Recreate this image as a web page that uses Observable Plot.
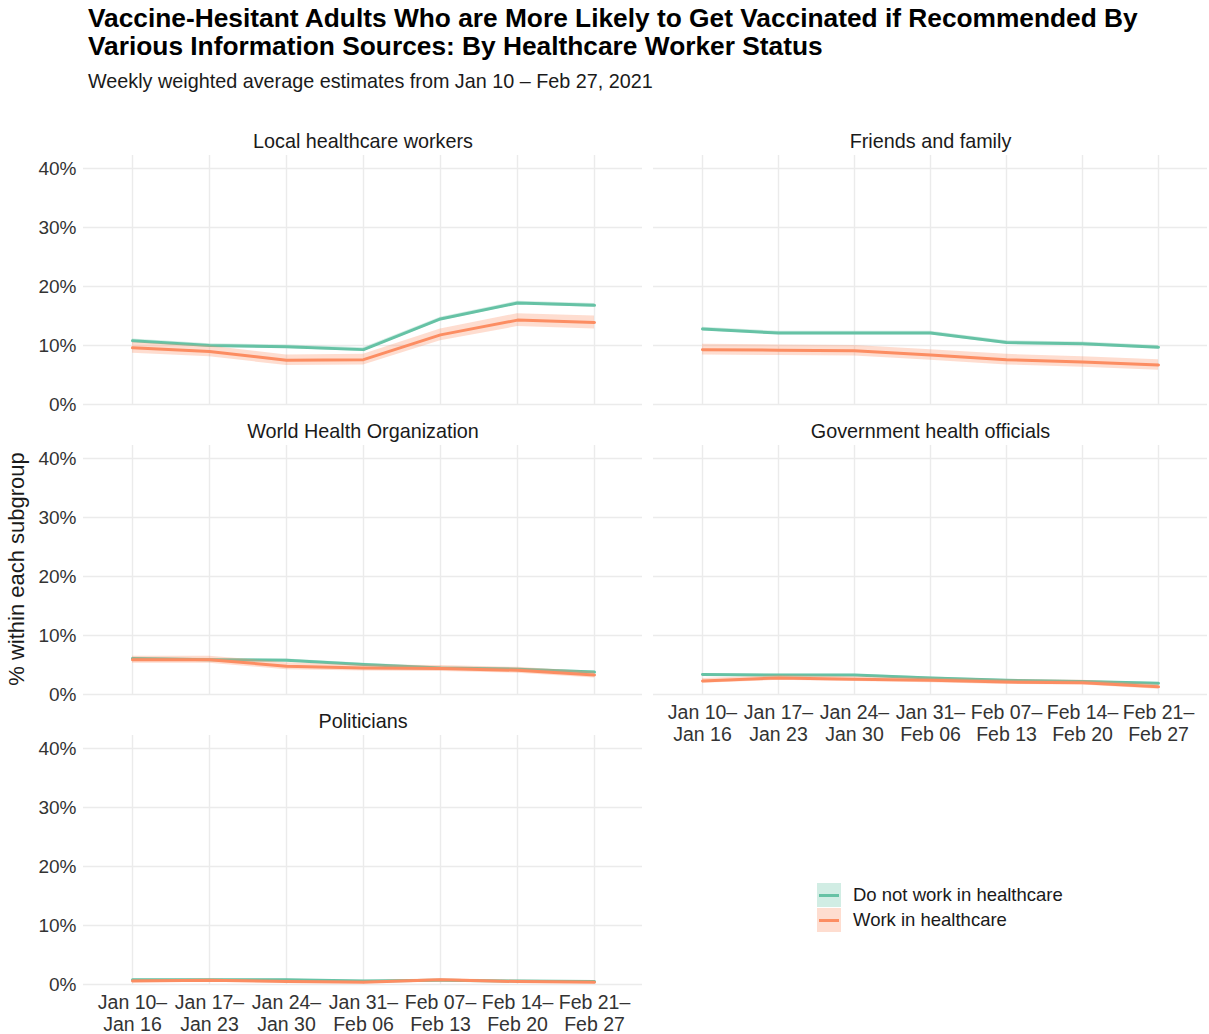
<!DOCTYPE html>
<html>
<head>
<meta charset="utf-8">
<script src="https://cdn.jsdelivr.net/npm/d3@7"></script>
<script src="https://cdn.jsdelivr.net/npm/@observablehq/plot@0.6"></script>
<style>
  body { margin:0; background:#fff; font-family:"Liberation Sans", Arial, Helvetica, sans-serif; width:1209px; height:1034px; overflow:hidden; position:relative; }
  #title { position:absolute; left:88px; top:4px; font-size:26.3px; font-weight:bold; line-height:28px; color:#000; white-space:nowrap; }
  #subtitle { position:absolute; left:88px; top:70px; font-size:19.8px; color:#1a1a1a; white-space:nowrap; }
  #ylab { position:absolute; left:17px; top:569px; transform:translate(-50%,-50%) rotate(-90deg); font-size:22px; color:#1a1a1a; white-space:nowrap; }
  .panel { position:absolute; }
  #legend { position:absolute; left:817px; top:882px; font-size:18.5px; color:#1a1a1a; }
  .item { display:flex; align-items:center; height:25px; }
  .key { width:24px; height:24px; position:relative; margin-right:12px; }
  .key .bg { position:absolute; inset:0; opacity:0.3; }
  .key .ln { position:absolute; left:2px; right:2px; top:11px; height:3px; }
</style>
</head>
<body>
<div id="title">Vaccine-Hesitant Adults Who are More Likely to Get Vaccinated if Recommended By<br>Various Information Sources: By Healthcare Worker Status</div>
<div id="subtitle">Weekly weighted average estimates from Jan 10 – Feb 27, 2021</div>
<div id="ylab">% within each subgroup</div>
<div id="legend"></div>
<script>
const weeks = ["Jan 10–\nJan 16","Jan 17–\nJan 23","Jan 24–\nJan 30","Jan 31–\nFeb 06","Feb 07–\nFeb 13","Feb 14–\nFeb 20","Feb 21–\nFeb 27"];
const groups = ["Do not work in healthcare","Work in healthcare"];
const groupColors = ["#66c2a5","#fc8d62"];
const panelTitles = ["Local healthcare workers","Friends and family","World Health Organization","Government health officials","Politicians"];
const yTicks = [0, 0.1, 0.2, 0.3, 0.4];

// values in percent
const localNot   = [10.8, 10.0, 9.8, 9.3, 14.5, 17.2, 16.8];
const localWork  = [9.6, 9.0, 7.5, 7.6, 11.8, 14.3, 13.9];
const friendsNot = [12.8, 12.1, 12.1, 12.1, 10.5, 10.3, 9.7];
const friendsWork= [9.3, 9.2, 9.1, 8.4, 7.6, 7.2, 6.7];
const whoNot     = [6.1, 5.9, 5.8, 5.1, 4.5, 4.3, 3.8];
const whoWork    = [5.9, 5.9, 4.8, 4.5, 4.4, 4.1, 3.3];
const govNot     = [3.4, 3.3, 3.3, 2.8, 2.4, 2.2, 1.9];
const govWork    = [2.3, 2.8, 2.6, 2.4, 2.1, 2.0, 1.3];
const polNot     = [0.8, 0.8, 0.8, 0.6, 0.7, 0.6, 0.5];
const polWork    = [0.6, 0.7, 0.5, 0.4, 0.8, 0.5, 0.4];

// 95% CI half-widths in percent
const localNotMoe   = [0.3, 0.3, 0.3, 0.3, 0.3, 0.3, 0.3];
const localWorkMoe  = [0.9, 0.9, 0.9, 0.9, 1.0, 1.1, 1.1];
const friendsNotMoe = [0.3, 0.3, 0.3, 0.3, 0.3, 0.3, 0.3];
const friendsWorkMoe= [0.9, 0.9, 0.9, 0.9, 0.9, 0.9, 0.9];
const whoNotMoe     = [0.2, 0.2, 0.2, 0.2, 0.2, 0.2, 0.2];
const whoWorkMoe    = [0.6, 0.6, 0.6, 0.5, 0.5, 0.5, 0.5];
const govNotMoe     = [0.15, 0.15, 0.15, 0.15, 0.15, 0.15, 0.15];
const govWorkMoe    = [0.4, 0.4, 0.4, 0.4, 0.4, 0.4, 0.4];
const polNotMoe     = [0.1, 0.1, 0.1, 0.1, 0.1, 0.1, 0.1];
const polWorkMoe    = [0.2, 0.2, 0.2, 0.2, 0.2, 0.2, 0.2];

function rows(vals, moe, g) {
  return vals.map((v, i) => ({week: weeks[i], group: groups[g], value: v / 100, lo: (v - moe[i]) / 100, hi: (v + moe[i]) / 100}));
}

function panel({title, nv, nm, wv, wm, left, top, width, marginRight, marginBottom, showY}) {
  const nd = rows(nv, nm, 0), wd = rows(wv, wm, 1);
  const showX = marginBottom > 20;
  const chart = Plot.plot({
    width, height: 30 + 249 + marginBottom,
    marginLeft: 63, marginRight, marginTop: 30, marginBottom,
    style: {fontFamily: '"Liberation Sans", Arial, sans-serif', fontSize: "19px", color: "#333", background: "transparent", overflow: "visible"},
    x: {type: "point", domain: weeks, padding: 0.62, axis: null, label: null},
    y: {domain: [0, 0.422], axis: null, label: null},
    marks: [
      Plot.gridY(yTicks, {stroke: "#ebebeb", strokeOpacity: 1, strokeWidth: 1.4}),
      Plot.gridX(weeks, {stroke: "#ebebeb", strokeOpacity: 1, strokeWidth: 1.4}),
      showY ? Plot.axisY(yTicks, {tickSize: 0, tickPadding: 7, tickFormat: d => Math.round(d * 100) + "%", fontSize: 19, fill: "#333", label: null}) : null,
      showX ? Plot.axisX(weeks, {tickSize: 0, tickPadding: 9, fontSize: 19.5, lineHeight: 1.12, fill: "#333", label: null}) : null,
      Plot.areaY(nd, {x: "week", y1: "lo", y2: "hi", fill: groupColors[0], fillOpacity: 0.3}),
      Plot.lineY(nd, {x: "week", y: "value", stroke: groupColors[0], strokeWidth: 3}),
      Plot.areaY(wd, {x: "week", y1: "lo", y2: "hi", fill: groupColors[1], fillOpacity: 0.3}),
      Plot.lineY(wd, {x: "week", y: "value", stroke: groupColors[1], strokeWidth: 3}),
      Plot.text([title], {frameAnchor: "top", dy: -22, fontSize: 19.8, fill: "#1a1a1a"})
    ]
  });
  const div = document.createElement("div");
  div.className = "panel";
  div.style.left = left + "px";
  div.style.top = top + "px";
  div.appendChild(chart);
  document.body.appendChild(div);
}

const L = {left: 20, width: 622, marginRight: 0, showY: true};
const R = {left: 590, width: 619, marginRight: 2, showY: false};
panel({title: panelTitles[0], nv: localNot, nm: localNotMoe, wv: localWork, wm: localWorkMoe, ...L, top: 125, marginBottom: 6});
panel({title: panelTitles[1], nv: friendsNot, nm: friendsNotMoe, wv: friendsWork, wm: friendsWorkMoe, ...R, top: 125, marginBottom: 6});
panel({title: panelTitles[2], nv: whoNot, nm: whoNotMoe, wv: whoWork, wm: whoWorkMoe, ...L, top: 415, marginBottom: 6});
panel({title: panelTitles[3], nv: govNot, nm: govNotMoe, wv: govWork, wm: govWorkMoe, ...R, top: 415, marginBottom: 55});
panel({title: panelTitles[4], nv: polNot, nm: polNotMoe, wv: polWork, wm: polWorkMoe, ...L, top: 705, marginBottom: 50});

const legend = document.getElementById("legend");
groups.forEach((g, i) => {
  const item = document.createElement("div");
  item.className = "item";
  item.innerHTML = `<div class="key"><div class="bg" style="background:${groupColors[i]}"></div><div class="ln" style="background:${groupColors[i]}"></div></div><span>${g}</span>`;
  legend.appendChild(item);
});
</script>
</body>
</html>
